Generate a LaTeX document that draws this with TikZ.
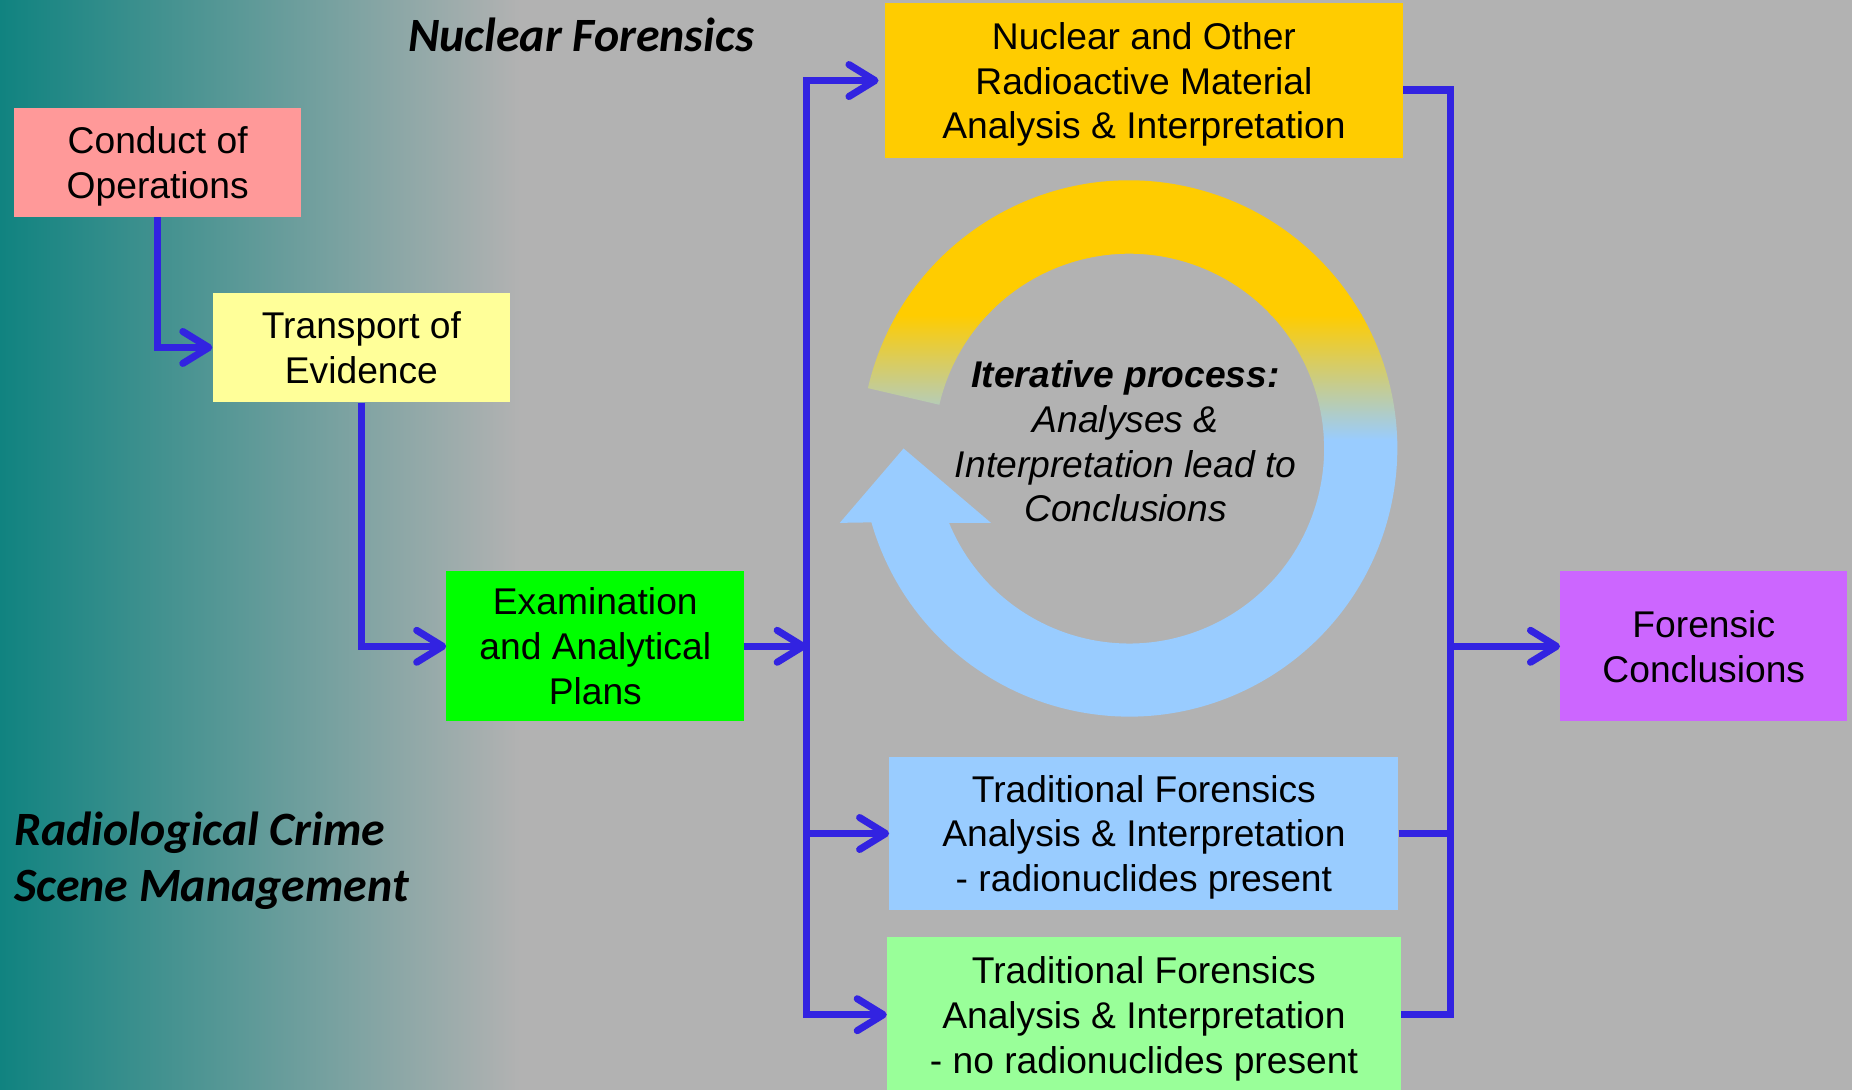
\documentclass[tikz,border=0pt]{standalone}
\usepackage{fontspec}
\setmainfont{Liberation Sans}
\newfontfamily\headfont{Carlito}
\usetikzlibrary{arrows.meta,positioning}

\definecolor{bgteal}{RGB}{16,131,128}
\definecolor{bggrey}{RGB}{178,178,178}
\definecolor{linkblue}{RGB}{50,35,225}
\definecolor{opspink}{RGB}{255,153,153}
\definecolor{transyellow}{RGB}{255,255,153}
\definecolor{examgreen}{RGB}{0,255,0}
\definecolor{nuclyellow}{RGB}{255,204,0}
\definecolor{tradblue}{RGB}{153,204,255}
\definecolor{tradgreen}{RGB}{153,255,153}
\definecolor{conclpurple}{RGB}{204,102,255}

\tikzset{
  box/.style={rectangle, inner sep=0pt, align=center, text depth=0pt, font=\fontsize{31.5}{38}\selectfont},
  link/.style={draw=linkblue, line width=6pt},
  heading/.style={font=\headfont\bfseries\itshape\fontsize{40.5}{48}\selectfont, inner sep=0pt},
}

\begin{document}
\begin{tikzpicture}[x=1pt, y=1pt, >={Straight Barb[length=22pt,width=27pt,round]}]
    % Background, teal fading into grey
    \useasboundingbox (0,0) rectangle (1568,922.7);
    \fill[bggrey] (0,-5) rectangle (1568,925);
    \shade[left color=bgteal, right color=bggrey] (0,-5) rectangle (440,925);

    % Headings
    \node [heading]                          (nf)   at (492,893) {Nuclear Forensics};
    \node [heading, anchor=west, align=left] (rcsm) at (12,194)  {Radiological Crime\\Scene Management};

    % Iterative cycle arrow, yellow on top turning blue
    \begin{scope}[shift={(956,543)}]
      \clip (167:227) arc[start angle=167, end angle=-164, radius=227]
        -- (-245,-63) -- (-191,0) -- (-117,-63) -- (-152.5,-63)
        arc[start angle=-157.6, end angle=167, radius=165] -- cycle;
      \fill[nuclyellow] (-260,112) rectangle (240,240);
      \fill[tradblue] (-260,-240) rectangle (240,8);
      \shade[top color=nuclyellow, bottom color=tradblue] (-260,7) rectangle (240,113);
    \end{scope}
    \node [font=\itshape\fontsize{31.5}{38}\selectfont, align=center] (iter) at (953,549)
      {\textbf{Iterative process:}\\Analyses \&\\Interpretation lead to\\Conclusions};

    % Nodes
    \node [box, fill=opspink,     minimum width=243, minimum height=92]  (cond)   at (133.5,785) {Conduct of\\Operations};
    \node [box, fill=transyellow, minimum width=252, minimum height=93]  (transp) at (306,628.5) {Transport of\\Evidence};
    \node [box, fill=examgreen,   minimum width=252, minimum height=127] (exam)   at (504,375.5) {Examination\\and Analytical\\Plans};
    \node [box, fill=nuclyellow,  minimum width=439, minimum height=131] (nucl)   at (968.5,854.5) {Nuclear and Other\\Radioactive Material\\Analysis \& Interpretation};
    \node [box, fill=tradblue,    minimum width=431, minimum height=130] (tradr)  at (968.5,217) {Traditional Forensics\\Analysis \& Interpretation\\ - radionuclides present};
    \node [box, fill=tradgreen,   minimum width=435, minimum height=132] (tradn)  [below=22pt of tradr] {Traditional Forensics\\Analysis \& Interpretation\\ - no radionuclides present};
    \node [box, fill=conclpurple, minimum width=243, minimum height=127] (concl)  at (1442.5,375.5) {Forensic\\Conclusions};

    % Branch and merge points
    \coordinate (split) at (683,375.5);
    \coordinate (merge) at (1228,375.5);

    % Paths
    \draw [link, ->] (cond.south)  |- (transp.west);
    \draw [link, ->] (transp.south) |- (exam.west);
    \draw [link, ->] (exam.east)   -- (split);
    \draw [link, ->, shorten >=5pt] (split) |- (nucl.west);
    \draw [link, ->] (split)       |- (tradr.west);
    \draw [link, ->] (split)       |- (tradn.west);
    \draw [link]     ([yshift=-8pt]nucl.east) -| (merge);
    \draw [link]     (tradr.east)  -| (merge);
    \draw [link]     (tradn.east)  -| (merge);
    \draw [link, ->] (merge)       -- (concl.west);
\end{tikzpicture}
\end{document}
